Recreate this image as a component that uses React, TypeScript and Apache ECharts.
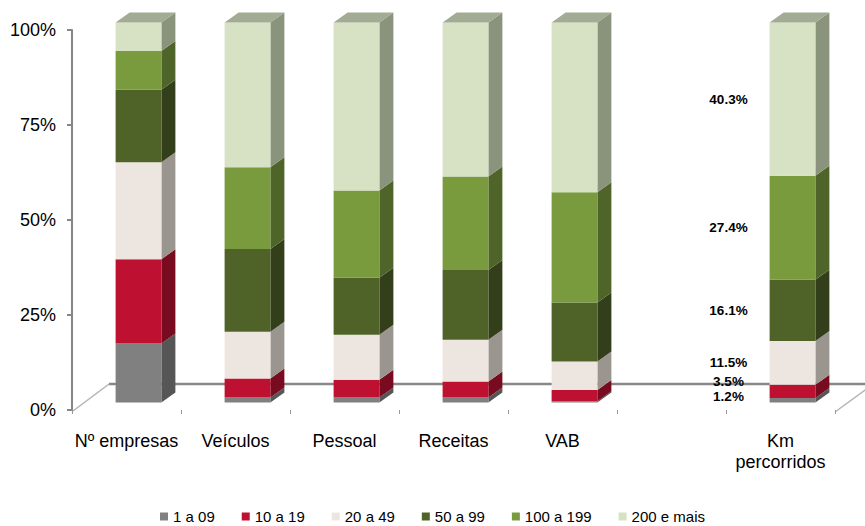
import React, { useEffect, useRef } from 'react';
import * as echarts from 'echarts';

// Categories along the floor (the empty slot separates "Km percorridos")
const categories = ['Nº empresas', 'Veículos', 'Pessoal', 'Receitas', 'VAB', '', 'Km\npercorridos'];
const sizeClasses = ['1 a 09', '10 a 19', '20 a 49', '50 a 99', '100 a 199', '200 e mais'];

// Share (%) of each size class, per category
const share1a09 = [15.5, 1.3, 1.3, 1.3, 0.3, null, 1.2];
const share10a19 = [22.2, 5.0, 4.7, 4.2, 3.0, null, 3.5];
const share20a49 = [25.5, 12.3, 11.8, 11.0, 7.5, null, 11.5];
const share50a99 = [19.1, 21.8, 15.0, 18.4, 15.5, null, 16.1];
const share100a199 = [10.2, 21.5, 23.0, 24.6, 29.0, null, 27.4];
const share200mais = [7.5, 38.1, 44.2, 40.5, 44.7, null, 40.3];

const yTicks = [0, 25, 50, 75, 100];

// Category whose segments carry value labels
const labelledCategory = 'Km\npercorridos';

const classShares = [share1a09, share10a19, share20a49, share50a99, share100a199, share200mais];

const frontColors = ['#808080', '#BE1030', '#EDE6E0', '#4F6228', '#7A9A3E', '#D7E2C5'];
const sideColors = ['#565656', '#780B1F', '#9A958F', '#333F1A', '#4F6428', '#8A937B'];
const topColor = '#A2AB93';

const FONT = '"Liberation Sans", Arial, sans-serif';

// 3D projection of the columns (pixels)
const SHIFT_X = 12;
const SHIFT_Y = -7.5;
const DEPTH_X = 14;
const DEPTH_Y = -10;
const BAR_RATIO = 0.42;

// plot area
const GRID_LEFT = 72;
const GRID_RIGHT = 30;
const GRID_TOP = 30;
const GRID_BOTTOM = 116;
const W = 865;
const H = 526;

// floor of the 3D plot
const FLOOR_DX = 37;
const FLOOR_DY = -27;

function segmentRenderer(s: number) {
  return (params: any, api: any) => {
    const c = api.value(0);
    const lo = api.value(1);
    const hi = api.value(2);
    const pLo = api.coord([c, lo]);
    const pHi = api.coord([c, hi]);
    const band = api.size([1, 0])[0];
    const w = band * BAR_RATIO;
    const cx = pLo[0] + SHIFT_X;
    const left = cx - w / 2;
    const right = cx + w / 2;
    const yB = pLo[1] + SHIFT_Y;
    const yT = pHi[1] + SHIFT_Y;
    const children: any[] = [
      {
        type: 'polygon',
        shape: {
          points: [
            [right, yT],
            [right + DEPTH_X, yT + DEPTH_Y],
            [right + DEPTH_X, yB + DEPTH_Y],
            [right, yB],
          ],
        },
        style: { fill: sideColors[s] },
      },
      {
        type: 'rect',
        shape: { x: left, y: yT, width: w, height: yB - yT },
        style: { fill: frontColors[s] },
      },
    ];
    if (hi >= 99.9) {
      children.push({
        type: 'polygon',
        shape: {
          points: [
            [left, yT],
            [left + DEPTH_X, yT + DEPTH_Y],
            [right + DEPTH_X, yT + DEPTH_Y],
            [right, yT],
          ],
        },
        style: { fill: topColor },
      });
    }
    return { type: 'group', children };
  };
}

export default function App() {
  const ref = useRef<HTMLDivElement>(null);

  useEffect(() => {
    if (!ref.current) return;
    const chart = echarts.init(ref.current, null, { renderer: 'svg' });

    const segmentSeries = sizeClasses.map((name, s) => {
      const data: any[] = [];
      categories.forEach((_, c) => {
        const v = classShares[s][c];
        if (v == null) return;
        let base = 0;
        for (let k = 0; k < s; k++) base += classShares[k][c] as number;
        data.push([c, base, base + v, v]);
      });
      return {
        type: 'custom',
        name,
        z: 3,
        itemStyle: { color: frontColors[s] },
        encode: { x: 0, y: [1, 2] },
        renderItem: segmentRenderer(s),
        data,
      };
    });

    const kmIdx = categories.indexOf(labelledCategory);
    const kmShares = classShares.map((arr) => arr[kmIdx] as number);

    const labelSeries = {
      type: 'custom',
      name: 'labels',
      z: 4,
      silent: true,
      encode: { x: 0, y: 1 },
      renderItem: (params: any, api: any) => {
        const i = params.dataIndex;
        const zeroY = api.coord([kmIdx, 0])[1];
        let base = 0;
        const ys: number[] = [];
        kmShares.forEach((v, k) => {
          const mid = api.coord([kmIdx, base + v / 2])[1] + SHIFT_Y;
          base += v;
          ys.push(k === 0 ? Math.min(mid, zeroY - 14) : Math.min(mid, ys[k - 1] - 15));
        });
        const x = api.coord([kmIdx, 0])[0] - 52;
        return {
          type: 'text',
          x,
          y: ys[i],
          style: {
            text: kmShares[i].toFixed(1) + '%',
            align: 'center',
            verticalAlign: 'middle',
            fontSize: 13.5,
            fontWeight: 'bold',
            fontFamily: FONT,
            fill: '#000',
          },
        };
      },
      data: kmShares.map((v, k) => [kmIdx, v, k]),
    };

    const floorFrontY = H - GRID_BOTTOM + 1;
    const floorBackY = floorFrontY + FLOOR_DY;
    const rightX = W - GRID_RIGHT;

    chart.setOption({
      animation: false,
      grid: { left: GRID_LEFT, right: GRID_RIGHT, top: GRID_TOP, bottom: GRID_BOTTOM, containLabel: false },
      legend: {
        data: sizeClasses,
        top: 504,
        left: 'center',
        icon: 'rect',
        itemWidth: 8,
        itemHeight: 8,
        itemGap: 27,
        textStyle: { fontSize: 15, fontFamily: FONT, color: '#000' },
      },
      xAxis: {
        type: 'category',
        data: categories,
        boundaryGap: true,
        axisLine: { show: false },
        axisTick: { show: true, length: 4, lineStyle: { color: '#999', width: 1 } },
        axisLabel: {
          margin: 20,
          fontSize: 18,
          lineHeight: 21,
          fontFamily: FONT,
          color: '#000',
          interval: 0,
        },
      },
      yAxis: {
        type: 'value',
        min: yTicks[0],
        max: yTicks[yTicks.length - 1],
        interval: yTicks[1] - yTicks[0],
        axisLine: { show: true, lineStyle: { color: '#868686', width: 2 } },
        axisTick: { show: true, length: 5, lineStyle: { color: '#868686', width: 2 } },
        splitLine: { show: false },
        axisLabel: {
          margin: 16,
          fontSize: 18,
          fontFamily: FONT,
          color: '#000',
          formatter: '{value}%',
        },
      },
      graphic: [
        {
          type: 'line',
          z: 0,
          shape: { x1: GRID_LEFT + FLOOR_DX, y1: floorBackY, x2: rightX + FLOOR_DX, y2: floorBackY },
          style: { stroke: '#888', lineWidth: 2.5 },
        },
        {
          type: 'line',
          z: 0,
          shape: { x1: GRID_LEFT + 1, y1: floorFrontY, x2: GRID_LEFT + FLOOR_DX, y2: floorBackY },
          style: { stroke: '#B4B4B4', lineWidth: 1.5 },
        },
        {
          type: 'line',
          z: 0,
          shape: { x1: rightX, y1: floorFrontY + 1, x2: rightX + FLOOR_DX, y2: floorBackY + 1 },
          style: { stroke: '#B4B4B4', lineWidth: 1.5 },
        },
      ],
      series: [...segmentSeries, labelSeries],
    });

    return () => chart.dispose();
  }, []);

  return (
    <div
      ref={ref}
      style={{ position: 'absolute', left: 0, top: 0, width: W, height: H, background: '#fff' }}
    />
  );
}
